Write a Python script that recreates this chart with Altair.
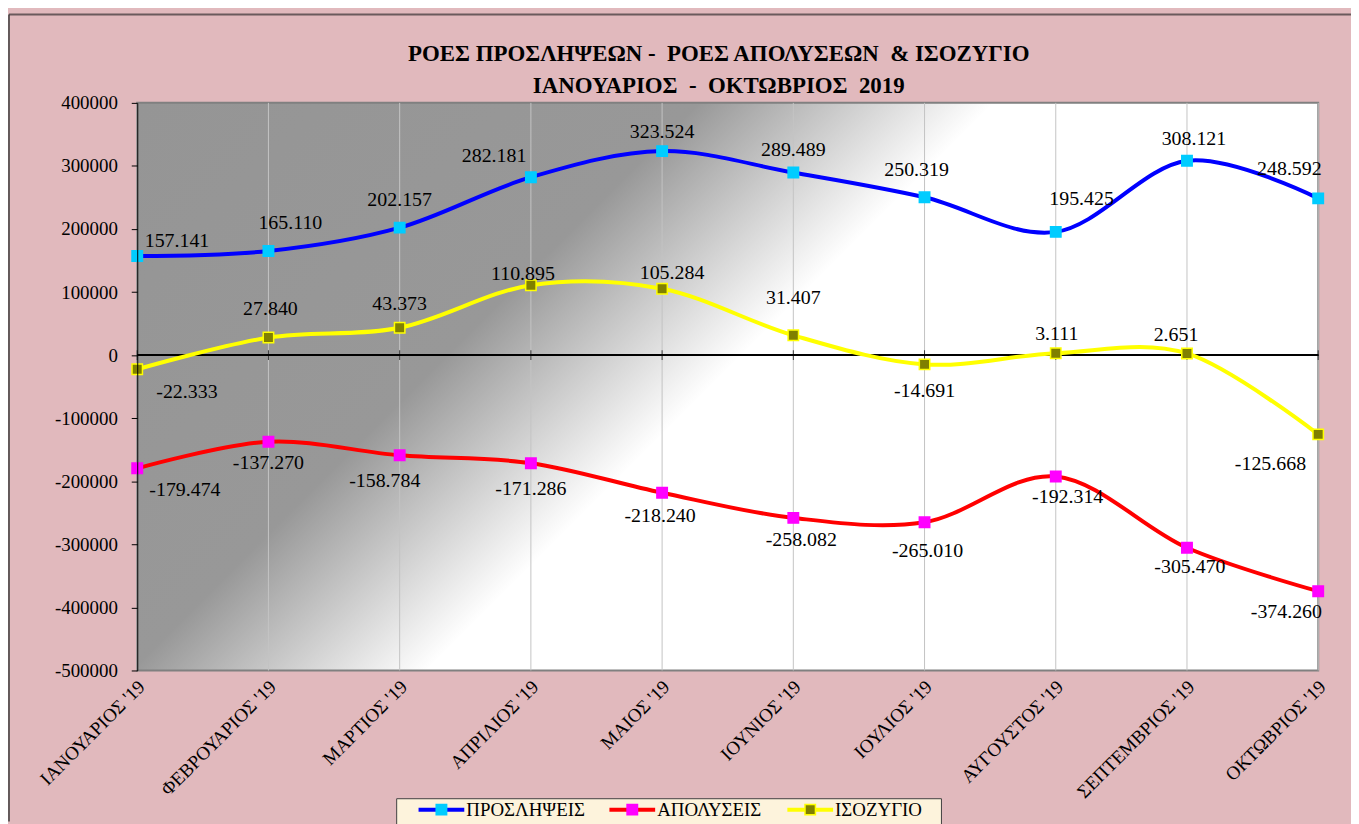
import json
import altair as alt
import pandas as pd

# ---------------- data ----------------
months = ["ΙΑΝΟΥΑΡΙΟΣ '19", "ΦΕΒΡΟΥΑΡΙΟΣ '19", "ΜΑΡΤΙΟΣ '19", "ΑΠΡΙΛΙΟΣ '19",
          "ΜΑΙΟΣ '19", "ΙΟΥΝΙΟΣ '19", "ΙΟΥΛΙΟΣ '19", "ΑΥΓΟΥΣΤΟΣ '19",
          "ΣΕΠΤΕΜΒΡΙΟΣ '19", "ΟΚΤΩΒΡΙΟΣ '19"]
series_names = ["ΠΡΟΣΛΗΨΕΙΣ", "ΑΠΟΛΥΣΕΙΣ", "ΙΣΟΖΥΓΙΟ"]
proslipseis = [157141, 165110, 202157, 282181, 323524, 289489, 250319, 195425, 308121, 248592]
apolyseis = [-179474, -137270, -158784, -171286, -218240, -258082, -265010, -192314, -305470, -374260]
isozygio = [-22333, 27840, 43373, 110895, 105284, 31407, -14691, 3111, 2651, -125668]
y_ticks = [400000, 300000, 200000, 100000, 0, -100000, -200000, -300000, -400000, -500000]
title_lines = ["ΡΟΕΣ ΠΡΟΣΛΗΨΕΩΝ -\u00a0 ΡΟΕΣ ΑΠΟΛΥΣΕΩΝ \u00a0& ΙΣΟΖΥΓΙΟ",
               "ΙΑΝΟΥΑΡΙΟΣ \u00a0-\u00a0 ΟΚΤΩΒΡΙΟΣ \u00a02019"]

# label nudges in pixels (dx, dy) – layout only
off_pros = [(40, -15), (22, -28), (0, -28), (-37, -21), (0, -19), (0, -23), (-8, -27), (26, -33), (7, -22), (-29, -29)]
off_apol = [(48, 22), (0, 21), (-15, 26), (0, 26), (-2, 23), (8, 22), (3, 29), (12, 21), (3, 19), (-32, 21)]
off_iso = [(50, 23), (2, -29), (0, -24), (-8, -11), (10, -16), (0, -38), (0, 27), (1, -19), (-11, -19), (-48, 30)]

# ---------------- styles ----------------
line_colors = ["#0000ff", "#ff0000", "#ffff00"]
marker_fill = ["#00ccff", "#ff00ff", "#808000"]
marker_stroke = ["#00ccff", "#ff00ff", "#ffff00"]
FONT = "Liberation Serif, Times New Roman, serif"
W, H = 1188, 571
YMIN, YMAX = -500000, 400000
PAGE_BG = "#e1b9bd"

rows = []
for name, vals, offs in zip(series_names, [proslipseis, apolyseis, isozygio], [off_pros, off_apol, off_iso]):
    for i, v in enumerate(vals):
        rows.append(dict(idx=i, month=months[i], series=name, value=v,
                         label=f"{v:,}".replace(",", "."), ldx=offs[i][0], ldy=offs[i][1]))
df = pd.DataFrame(rows)
df_months = pd.DataFrame({"idx": list(range(len(months))), "month": months})

label_expr = "[" + ",".join(json.dumps(m, ensure_ascii=False) for m in months) + "][datum.value]"

x_scale = alt.Scale(domain=[0, len(months) - 1], nice=False, zero=False)
x_axis = alt.Axis(values=list(range(len(months))), labelExpr=label_expr, labelAngle=-45,
                  labelAlign="right", labelBaseline="middle", labelPadding=13, labelOffset=4,
                  labelFont=FONT, labelFontSize=19, labelColor="black", labelFlush=False,
                  labelOverlap=False, domain=False, ticks=False, grid=False, title=None)
y_scale = alt.Scale(domain=[YMIN, YMAX], nice=False, zero=False)
y_axis = alt.Axis(values=y_ticks, labelExpr="'' + datum.value", title=None, grid=False,
                  domainColor="black", tickColor="black", tickSize=6, labelPadding=14,
                  labelFont=FONT, labelFontSize=19, labelColor="black", zindex=1)

def X(field):
    return alt.X(field, scale=x_scale, axis=x_axis)

def Y(field):
    return alt.Y(field, scale=y_scale, axis=y_axis)

one = pd.DataFrame({"a": [0]})

gradient = alt.LinearGradient(
    gradient="linear", x1=0, y1=0, x2=1.2028, y2=0.5781,
    stops=[
        alt.GradientStop(offset=0.0, color="#959595"),
        alt.GradientStop(offset=0.321, color="#989898"),
        alt.GradientStop(offset=0.49, color="#ffffff"),
        alt.GradientStop(offset=1.0, color="#ffffff"),
    ],
)
plot_bg = alt.Chart(one).mark_rect(fill=gradient, stroke="#808080", strokeWidth=2).encode(
    x=alt.value(0), x2=alt.value(W), y=alt.value(0), y2=alt.value(H))

grid = alt.Chart(df_months).mark_rule(color="#c4c4c4", strokeWidth=1).encode(x=X("idx:Q"))
zero = alt.Chart(df_months).mark_rule(color="black", strokeWidth=1).encode(y=alt.datum(0))
zticks = alt.Chart(df_months).mark_tick(orient="vertical", color="black", size=10, thickness=1).encode(
    x=X("idx:Q"), y=alt.datum(0))

lines = alt.Chart(df).mark_line(interpolate="cardinal", strokeWidth=4).encode(
    x=X("idx:Q"), y=Y("value:Q"),
    color=alt.Color("series:N", scale=alt.Scale(domain=series_names, range=line_colors), legend=None))

points = alt.Chart(df).mark_square(size=110, opacity=1, strokeWidth=1.5).encode(
    x=X("idx:Q"), y=Y("value:Q"),
    fill=alt.Fill("series:N", scale=alt.Scale(domain=series_names, range=marker_fill), legend=None),
    stroke=alt.Stroke("series:N", scale=alt.Scale(domain=series_names, range=marker_stroke), legend=None))

texts = alt.Chart(df).transform_calculate(
    tx=f"datum.idx + datum.ldx * {len(months) - 1} / {W}",
    ty=f"datum.value - datum.ldy * {YMAX - YMIN} / {H}",
).mark_text(font=FONT, fontSize=20, color="black", align="center", baseline="middle").encode(
    x=X("tx:Q"), y=Y("ty:Q"), text="label:N")

# ---------- title (as text marks) ----------
title_layers = [
    alt.Chart(one).mark_text(font=FONT, fontSize=23, fontWeight="bold", color="black",
                             align="center", baseline="middle").encode(
        x=alt.value(585), y=alt.value(yy), text=alt.value(t))
    for t, yy in zip(title_lines, [-49, -17])
]

# ---------- manual legend ----------
LY = 711
legend_layers = [alt.Chart(one).mark_rect(fill="#fdf3dc", stroke="#404040", strokeWidth=1).encode(
    x=alt.value(261), x2=alt.value(809), y=alt.value(700), y2=alt.value(745))]
leg_x = [283, 475, 654]
for i, name in enumerate(series_names):
    x0 = leg_x[i]
    legend_layers.append(alt.Chart(one).mark_rule(color=line_colors[i], strokeWidth=4).encode(
        x=alt.value(x0), x2=alt.value(x0 + 46), y=alt.value(LY)))
    legend_layers.append(alt.Chart(one).mark_square(size=110, opacity=1, fill=marker_fill[i],
                                                    stroke=marker_stroke[i], strokeWidth=1.5).encode(
        x=alt.value(x0 + 23), y=alt.value(LY)))
    legend_layers.append(alt.Chart(one).mark_text(font=FONT, fontSize=19, color="black", align="left",
                                                  baseline="middle").encode(
        x=alt.value(x0 + 48), y=alt.value(LY), text=alt.value(name)))

# page frame lines
frame_top = alt.Chart(one).mark_rule(color="#6a5a5d", strokeWidth=2).encode(
    x=alt.value(-129), x2=alt.value(1221), y=alt.value(-89))
frame_left = alt.Chart(one).mark_rule(color="#3a3a3a", strokeWidth=1.5).encode(
    x=alt.value(-129), y=alt.value(-89), y2=alt.value(723))

chart = alt.layer(
    plot_bg, grid, zero, zticks, lines, points, texts, frame_top, frame_left,
    *title_layers, *legend_layers
).properties(
    width=W, height=H,
    padding={"left": 130, "top": 93, "right": 33, "bottom": 152},
    autosize=alt.AutoSizeParams(type="none"),
    background=PAGE_BG,
).configure_view(stroke=None)

chart.save("out.html", embed_options={"renderer": "svg", "actions": False})
